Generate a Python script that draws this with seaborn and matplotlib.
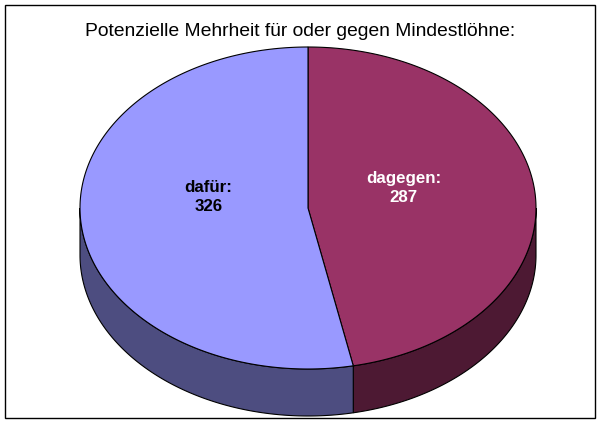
import numpy as np
import matplotlib
matplotlib.use("Agg")
import matplotlib.pyplot as plt
from matplotlib.patches import Polygon, Rectangle
import seaborn as sns

title = 'Potenzielle Mehrheit für oder gegen Mindestlöhne:'
labels = ['dagegen:', 'dafür:']
values = [287, 326]
top_colors = ['#993366', '#9999FF']
side_colors = ['#4D1933', '#4D4D80']

sns.set_theme(style='white')
plt.rcParams['font.family'] = ['Liberation Sans', 'DejaVu Sans']

fig = plt.figure(figsize=(6, 4.23), dpi=100)
ax = fig.add_axes([0, 0, 1, 1])
ax.set_xlim(0, 600)
ax.set_ylim(423, 0)
ax.axis('off')

# Rahmen
ax.add_patch(Rectangle((5, 5), 590, 413, fc='white', ec='black', lw=1))

cx, cy = 308, 208
rx, ry = 228, 161
depth = 47


def rim(a):
    # Winkel im Uhrzeigersinn von oben
    return cx + rx * np.sin(a), cy - ry * np.cos(a)


edges = np.concatenate([[0], np.cumsum(values) / np.sum(values) * 2 * np.pi])

# Seitenwand: nur die vordere Hälfte ist sichtbar
for i in range(len(values)):
    a0 = max(edges[i], np.pi / 2)
    a1 = min(edges[i + 1], 3 * np.pi / 2)
    t = np.linspace(a0, a1, 200)
    x, y = rim(t)
    pts = np.vstack([np.c_[x, y], np.c_[x[::-1], y[::-1] + depth]])
    ax.add_patch(Polygon(pts, closed=True, fc=side_colors[i], ec='black', lw=0.8))

# Deckfläche
for i in range(len(values)):
    t = np.linspace(edges[i], edges[i + 1], 300)
    x, y = rim(t)
    pts = np.vstack([[cx, cy], np.c_[x, y]])
    ax.add_patch(Polygon(pts, closed=True, fc=top_colors[i], ec='black', lw=0.8))

ax.text(300.5, 31, title, ha='center', va='center', fontsize=13.85, color='black')
ax.text(403.5, 188, f'{labels[0]}\n{values[0]}', ha='center', va='center', fontsize=12.2,
        fontweight='bold', color='white', linespacing=1.35)
ax.text(208.5, 197, f'{labels[1]}\n{values[1]}', ha='center', va='center', fontsize=12.2,
        fontweight='bold', color='black', linespacing=1.35)

fig.savefig('out.png', dpi=100)
